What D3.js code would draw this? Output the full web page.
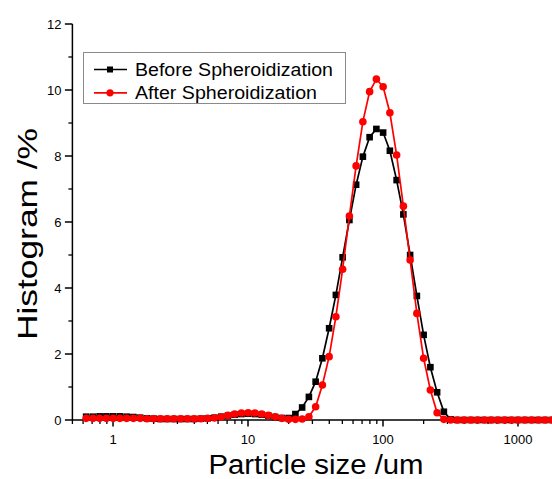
<!DOCTYPE html>
<html>
<head>
<meta charset="utf-8">
<script src="https://cdn.jsdelivr.net/npm/d3@7"></script>
<style>
  body { margin: 0; background: #fff; }
  svg { display: block; font-family: "Liberation Sans", Arial, sans-serif; }
</style>
</head>
<body>
<svg width="552" height="479"></svg>
<script>
// particle size classes (um)
var sizes = [0.632, 0.710, 0.796, 0.893, 1.002, 1.125, 1.262, 1.416, 1.589, 1.783,
  2.000, 2.244, 2.518, 2.825, 3.170, 3.557, 3.991, 4.477, 5.024, 5.637,
  6.325, 7.096, 7.962, 8.934, 10.024, 11.247, 12.619, 14.159, 15.887, 17.825,
  20.000, 22.440, 25.179, 28.251, 31.698, 35.566, 39.905, 44.774, 50.238, 56.368,
  63.246, 70.963, 79.621, 89.337, 100.237, 112.468, 126.191, 141.589, 158.866, 178.250,
  200.000, 224.404, 251.785, 282.508, 316.979, 355.656, 399.052, 447.744, 502.377, 563.677,
  632.456, 709.627, 796.214, 893.367, 1002.374, 1124.683, 1261.915, 1415.892, 1588.656, 1782.502,
  2000.000];

var before = [0.10, 0.10, 0.11, 0.11, 0.11, 0.11, 0.10, 0.09, 0.07, 0.05,
  0.04, 0.03, 0.03, 0.03, 0.03, 0.03, 0.03, 0.04, 0.05, 0.07,
  0.10, 0.13, 0.16, 0.18, 0.19, 0.18, 0.16, 0.13, 0.09, 0.06,
  0.06, 0.18, 0.38, 0.70, 1.16, 1.87, 2.78, 3.79, 4.93, 6.06,
  7.13, 7.98, 8.57, 8.82, 8.71, 8.16, 7.27, 6.23, 5.00, 3.76,
  2.58, 1.60, 0.84, 0.25, 0.02, 0, 0, 0, 0, 0,
  0, 0, 0, 0, 0, 0, 0, 0, 0, 0,
  0];

var after = [0.05, 0.05, 0.05, 0.05, 0.05, 0.05, 0.05, 0.05, 0.05, 0.04,
  0.04, 0.04, 0.04, 0.04, 0.04, 0.04, 0.04, 0.04, 0.05, 0.06,
  0.09, 0.14, 0.18, 0.21, 0.22, 0.21, 0.18, 0.14, 0.10, 0.05,
  0.02, 0.02, 0.03, 0.10, 0.40, 1.06, 1.92, 3.13, 4.57, 6.18,
  7.70, 9.04, 9.95, 10.33, 10.10, 9.31, 8.03, 6.48, 4.85, 3.23,
  1.87, 0.91, 0.22, 0.02, 0, 0, 0, 0, 0, 0,
  0, 0, 0, 0, 0, 0, 0, 0, 0, 0,
  0];

var seriesNames = ["Before Spheroidization", "After Spheroidization"];
var xTicks = [1, 10, 100, 1000];
var yTicks = [0, 2, 4, 6, 8, 10, 12];

var svg = d3.select("svg");

var x = d3.scaleLog().domain([0.5, 2000]).range([72.4, 558.6]);
var y = d3.scaleLinear().domain([0, 12]).range([420, 24]);

// minor ticks
var xMinor = [];
[0.1, 1, 10, 100, 1000].forEach(function (dec) {
  for (var k = 2; k <= 9; k++) {
    var v = dec * k;
    if (v >= 0.5 && v <= 2000) xMinor.push(v);
  }
});
var yMinor = [1, 3, 5, 7, 9, 11];

var xAxis = svg.append("g").attr("transform", "translate(0,420)");
xAxis.append("line").attr("x1", x(0.5)).attr("x2", 552).attr("stroke", "#000").attr("stroke-width", 1.5);
xAxis.selectAll(".mn").data(xMinor).enter().append("line")
  .attr("x1", function (d) { return x(d); }).attr("x2", function (d) { return x(d); })
  .attr("y1", 0).attr("y2", 4).attr("stroke", "#000").attr("stroke-width", 1.3);
xAxis.selectAll(".mj").data(xTicks).enter().append("line")
  .attr("x1", function (d) { return x(d); }).attr("x2", function (d) { return x(d); })
  .attr("y1", 0).attr("y2", 6.5).attr("stroke", "#000").attr("stroke-width", 1.5);
xAxis.selectAll(".lb").data(xTicks).enter().append("text")
  .attr("x", function (d) { return x(d); }).attr("y", 24)
  .attr("text-anchor", "middle").attr("font-size", 13).attr("fill", "#000")
  .text(function (d) { return d; });

var yAxis = svg.append("g").attr("transform", "translate(" + x(0.5) + ",0)");
yAxis.append("line").attr("y1", y(0)).attr("y2", y(12)).attr("stroke", "#000").attr("stroke-width", 1.5);
yAxis.selectAll(".mn").data(yMinor).enter().append("line")
  .attr("x1", -4).attr("x2", 0)
  .attr("y1", function (d) { return y(d); }).attr("y2", function (d) { return y(d); })
  .attr("stroke", "#000").attr("stroke-width", 1.3);
yAxis.selectAll(".mj").data(yTicks).enter().append("line")
  .attr("x1", -7.5).attr("x2", 0)
  .attr("y1", function (d) { return y(d); }).attr("y2", function (d) { return y(d); })
  .attr("stroke", "#000").attr("stroke-width", 1.5);
yAxis.selectAll(".lb").data(yTicks).enter().append("text")
  .attr("x", -11).attr("y", function (d) { return y(d); }).attr("dy", "0.35em")
  .attr("text-anchor", "end").attr("font-size", 13).attr("fill", "#000")
  .text(function (d) { return d; });

// axis titles
svg.append("text").attr("x", 316).attr("y", 474).attr("text-anchor", "middle")
  .attr("font-size", 27).attr("textLength", 215).attr("lengthAdjust", "spacingAndGlyphs")
  .text("Particle size /um");
svg.append("text").attr("transform", "translate(37,234) rotate(-90)")
  .attr("text-anchor", "middle").attr("font-size", 28)
  .attr("textLength", 212).attr("lengthAdjust", "spacingAndGlyphs")
  .text("Histogram /%");

// series
var line = d3.line()
  .x(function (d) { return x(d[0]); })
  .y(function (d) { return y(d[1]); });

var blackData = sizes.map(function (s, i) { return [s, before[i]]; });
var redData = sizes.map(function (s, i) { return [s, after[i]]; });

svg.append("path").attr("d", line(blackData)).attr("fill", "none")
  .attr("stroke", "#000").attr("stroke-width", 1.7);
svg.selectAll(".sq").data(blackData).enter().append("rect")
  .attr("x", function (d) { return x(d[0]) - 3.3; })
  .attr("y", function (d) { return y(d[1]) - 3.3; })
  .attr("width", 6.6).attr("height", 6.6).attr("fill", "#000");

svg.append("path").attr("d", line(redData)).attr("fill", "none")
  .attr("stroke", "#ff0000").attr("stroke-width", 1.7);
svg.selectAll(".ci").data(redData).enter().append("circle")
  .attr("cx", function (d) { return x(d[0]); })
  .attr("cy", function (d) { return y(d[1]); })
  .attr("r", 3.8).attr("fill", "#ff0000");

// legend
var lg = svg.append("g");
lg.append("rect").attr("x", 83.5).attr("y", 52.5).attr("width", 262).attr("height", 51)
  .attr("fill", "#fff").attr("stroke", "#8a8a8a").attr("stroke-width", 1);
var colors = ["#000", "#ff0000"];
var textLens = [198, 182];
seriesNames.forEach(function (name, i) {
  var yy = 69.5 + i * 23.3;
  lg.append("line").attr("x1", 94).attr("x2", 127).attr("y1", yy).attr("y2", yy)
    .attr("stroke", colors[i]).attr("stroke-width", 1.7);
  if (i === 0) {
    lg.append("rect").attr("x", 107).attr("y", yy - 3).attr("width", 6).attr("height", 6).attr("fill", "#000");
  } else {
    lg.append("circle").attr("cx", 110).attr("cy", yy).attr("r", 3.6).attr("fill", "#ff0000");
  }
  lg.append("text").attr("x", 135).attr("y", yy).attr("dy", "0.36em")
    .attr("font-size", 17.5).attr("fill", "#000")
    .attr("textLength", textLens[i]).attr("lengthAdjust", "spacingAndGlyphs")
    .text(name);
});
</script>
</body>
</html>
